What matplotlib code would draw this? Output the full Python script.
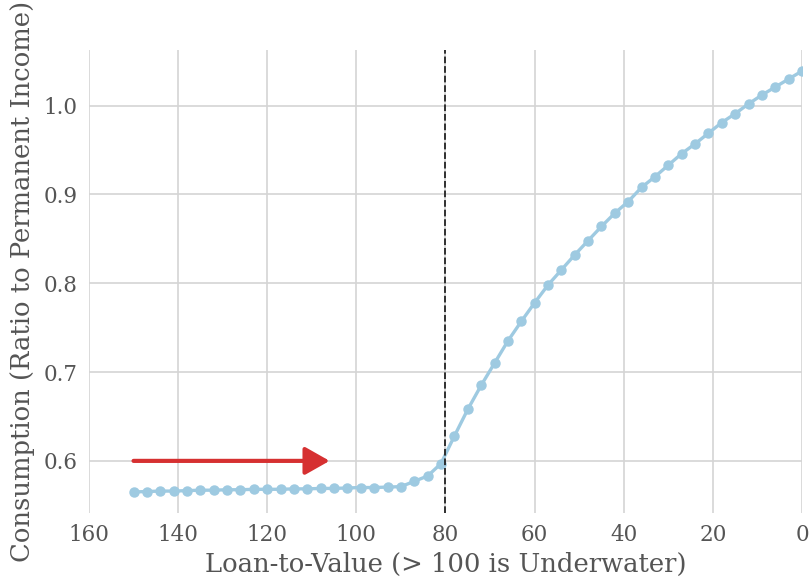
import matplotlib
matplotlib.use('agg')
import matplotlib.pyplot as plt

# loan-to-value grid (points every 3)
ltv = [150, 147, 144, 141, 138, 135, 132, 129, 126, 123, 120, 117, 114, 111,
       108, 105, 102, 99, 96, 93, 90, 87, 84, 81, 78, 75, 72, 69, 66, 63, 60,
       57, 54, 51, 48, 45, 42, 39, 36, 33, 30, 27, 24, 21, 18, 15, 12, 9, 6, 3, 0]
consumption = [0.565, 0.5655, 0.566, 0.566, 0.5665, 0.567, 0.567, 0.5675, 0.5675,
               0.568, 0.568, 0.568, 0.5685, 0.5685, 0.569, 0.569, 0.5695, 0.570,
               0.570, 0.5705, 0.571, 0.577, 0.583, 0.597, 0.628, 0.658, 0.685,
               0.710, 0.735, 0.757, 0.778, 0.798, 0.815, 0.832, 0.848, 0.864,
               0.879, 0.892, 0.908, 0.920, 0.933, 0.946, 0.957, 0.969, 0.981,
               0.991, 1.002, 1.012, 1.021, 1.030, 1.039]
threshold = 80
arrow_start, arrow_end, arrow_y = 150, 106, 0.6

plt.rcParams['font.family'] = ['DejaVu Serif']
text_color = '#555555'

fig = plt.figure(figsize=(8.11, 5.8), dpi=100)
ax = fig.add_axes([0.1097, 0.1155, 0.8792, 0.7983])

ax.plot(ltv, consumption, '-o', color='#9ecae1', linewidth=2.4, markersize=6.5, zorder=3)
ax.axvline(x=threshold, color='#222222', linestyle='--', linewidth=1.3, zorder=4)

ax.annotate('', xy=(arrow_end, arrow_y), xytext=(arrow_start, arrow_y),
            arrowprops=dict(arrowstyle='-|>,head_length=1.5,head_width=0.85',
                            color='#d63031', linewidth=3, shrinkA=0, shrinkB=0),
            zorder=5)

ax.set_xlim(160, 0)
ax.set_xticks([160, 140, 120, 100, 80, 60, 40, 20, 0])
ax.set_yticks([0.6, 0.7, 0.8, 0.9, 1.0])
ax.grid(True, color='#d4d4d4', linewidth=1.2)
ax.set_axisbelow(True)
for s in ax.spines.values():
    s.set_visible(False)
ax.tick_params(length=0, labelsize=15.5, colors=text_color, pad=8)

ax.set_xlabel('Loan-to-Value (> 100 is Underwater)', fontsize=18.6, color=text_color, labelpad=4)
ax.set_ylabel('Consumption (Ratio to Permanent Income)', fontsize=18.6, color=text_color, labelpad=6)

plt.savefig('out.png', dpi=100)
